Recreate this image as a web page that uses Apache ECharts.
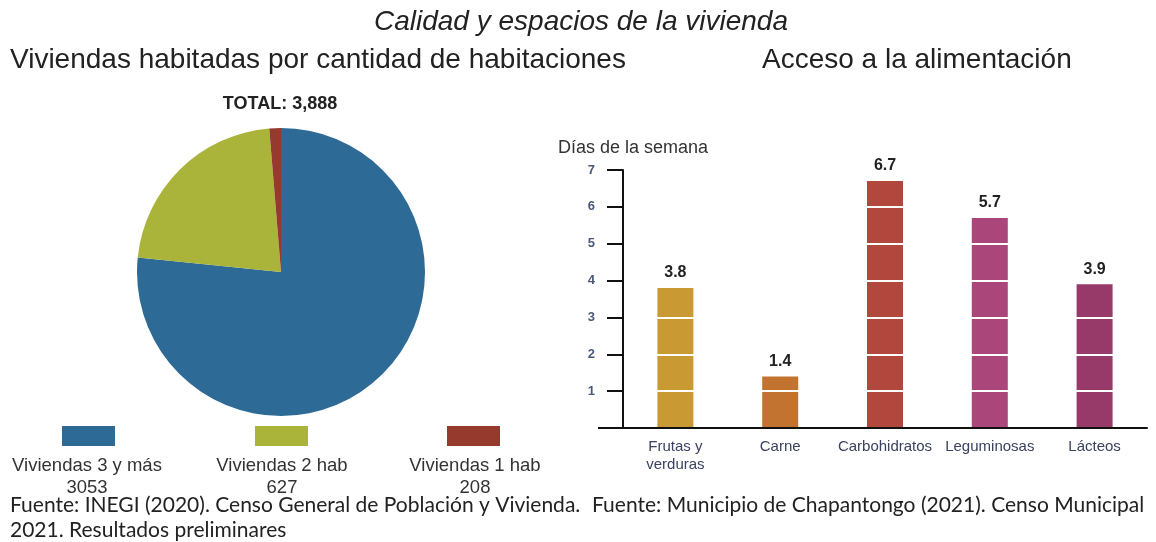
<!DOCTYPE html>
<html>
<head>
<meta charset="utf-8">
<script src="https://cdn.jsdelivr.net/npm/echarts@6/dist/echarts.min.js"></script>
<style>
html, body { margin: 0; padding: 0; background: #fff; }
#chart { width: 1156px; height: 542px; }
</style>
</head>
<body>
<div id="chart"></div>
<script>
// vivienda (pie)
var pieNames = ['Viviendas 3 y más', 'Viviendas 2 hab', 'Viviendas 1 hab'];
var pieCounts = [3053, 627, 208];          // numbers printed under the legend
var pieShares = [76.6, 22.1, 1.3];         // slice sizes as drawn in the picture (%)
var pieColors = ['#2e6a96', '#abb43a', '#963a2e'];

// alimentación (barras)
var foodCats = ['Frutas y\nverduras', 'Carne', 'Carbohidratos', 'Leguminosas', 'Lácteos'];
var foodDays = [3.8, 1.4, 6.7, 5.7, 3.9];
var foodColors = ['#c99a33', '#c1732f', '#b1473d', '#aa4679', '#973a6a'];

var FONT = "'Liberation Sans', Arial, sans-serif";
var SRC_FONT = "Lato, 'Open Sans', sans-serif";

var total = pieCounts.reduce(function (a, b) { return a + b; }, 0);
var legendX = [62, 255, 447];
var legendMid = [87, 282, 475];

var titles = [
  { text: 'Calidad y espacios de la vivienda', left: 581, top: 8, textAlign: 'center',
    textStyle: { fontFamily: FONT, fontSize: 28, fontStyle: 'italic', fontWeight: 'normal', color: '#222' } },
  { text: 'Viviendas habitadas por cantidad de habitaciones', left: 10, top: 46,
    textStyle: { fontFamily: FONT, fontSize: 28, fontWeight: 'normal', color: '#222' } },
  { text: 'Acceso a la alimentación', left: 762, top: 46,
    textStyle: { fontFamily: FONT, fontSize: 28, fontWeight: 'normal', color: '#222' } },
  { text: 'TOTAL: ' + total.toLocaleString('en-US'), left: 280, top: 95, textAlign: 'center',
    textStyle: { fontFamily: FONT, fontSize: 18, fontWeight: 'bold', color: '#222' } },
  { text: 'Días de la semana', left: 558, top: 139,
    textStyle: { fontFamily: FONT, fontSize: 18, fontWeight: 'normal', color: '#333' } },
  { text: 'Fuente: INEGI (2020). Censo General de Población y Vivienda.\n2021. Resultados preliminares',
    left: 10, top: 493,
    textStyle: { fontFamily: SRC_FONT, fontSize: 21, fontWeight: 'normal', color: '#222', lineHeight: 25 } },
  { text: 'Fuente: Municipio de Chapantongo (2021). Censo Municipal', left: 592, top: 493,
    textStyle: { fontFamily: SRC_FONT, fontSize: 21, fontWeight: 'normal', color: '#222', lineHeight: 25 } }
];
pieNames.forEach(function (n, i) {
  titles.push({
    text: n + '\n' + pieCounts[i], left: legendMid[i], top: 455, textAlign: 'center',
    textStyle: { fontFamily: FONT, fontSize: 18.5, fontWeight: 'normal', color: '#333', lineHeight: 22 }
  });
});
titles.forEach(function (t) { t.padding = 0; });

var legends = pieNames.map(function (n, i) {
  return {
    data: [n], left: legendX[i], top: 426, padding: 0, icon: 'rect',
    itemWidth: 53, itemHeight: 20, selectedMode: false,
    formatter: function () { return ''; }
  };
});

var myChart = echarts.init(document.getElementById('chart'));
myChart.setOption({
  animation: false,
  color: pieColors,
  title: titles,
  legend: legends,
  grid: { left: 623, top: 170, width: 524, height: 258, containLabel: false },
  xAxis: {
    type: 'category', data: foodCats, z: 6,
    axisLine: { lineStyle: { color: '#111', width: 2 } },
    axisTick: { show: false },
    axisLabel: { interval: 0, margin: 10, fontFamily: FONT, fontSize: 15, color: '#3b4160', lineHeight: 18 }
  },
  yAxis: {
    type: 'value', min: 0, max: 7, interval: 1, z: 5,
    axisLine: { show: true, lineStyle: { color: '#111', width: 2 } },
    axisTick: { show: true, length: 16, lineStyle: { color: '#111', width: 2 } },
    axisLabel: { margin: 28, fontFamily: FONT, fontSize: 13, fontWeight: 'bold', color: '#4b5877',
      formatter: function (v) { return v === 0 ? '' : v; } },
    splitLine: { show: true, lineStyle: { color: '#fff', width: 2 } }
  },
  graphic: [{
    type: 'line', shape: { x1: 598, y1: 428, x2: 624, y2: 428 },
    style: { stroke: '#111', lineWidth: 2 }
  }],
  series: [
    {
      type: 'pie', center: [281, 272], radius: 144, startAngle: 90, clockwise: true,
      label: { show: false }, labelLine: { show: false },
      data: pieNames.map(function (n, i) {
        return { name: n, value: pieShares[i], itemStyle: { color: pieColors[i] } };
      })
    },
    {
      type: 'bar', barWidth: 36, z: 2,
      data: foodDays.map(function (v, i) { return { value: v, itemStyle: { color: foodColors[i] } }; })
    },
    {
      // transparent copy drawn above the white grid lines, only carries the value labels
      type: 'bar', barWidth: 36, barGap: '-100%', z: 10, silent: true,
      itemStyle: { color: 'rgba(0,0,0,0)' },
      data: foodDays,
      label: { show: true, position: 'top', distance: 7, fontFamily: FONT, fontSize: 16,
        fontWeight: 'bold', color: '#222' }
    }
  ]
});
</script>
</body>
</html>
